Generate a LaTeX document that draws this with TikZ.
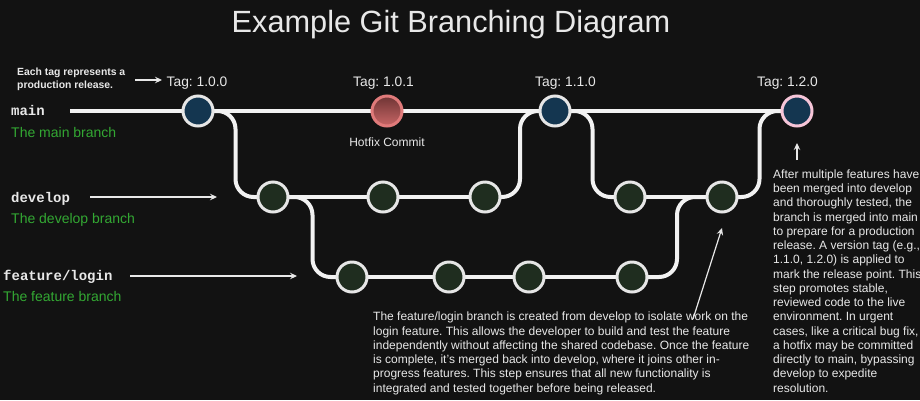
\documentclass[tikz,border=0pt]{standalone}
\usepackage{fontspec}
\setmainfont{Liberation Sans}
\setmonofont{Liberation Mono}
\usetikzlibrary{arrows.meta,calc}
\frenchspacing
\pgfdeclarelayer{back}
\pgfdeclarelayer{edges}
\pgfsetlayers{back,edges,main}
\definecolor{bg}{HTML}{121212}
\definecolor{linec}{HTML}{F2F2F2}
\definecolor{ringc}{HTML}{E6E6E6}
\definecolor{cblue}{HTML}{143650}
\definecolor{cgreen}{HTML}{1F2D1F}
\definecolor{hottop}{HTML}{6E3434}
\definecolor{hotbot}{HTML}{C86666}
\definecolor{hotring}{HTML}{E07A7A}
\definecolor{cpink}{HTML}{F6C5D8}
\definecolor{txt}{HTML}{E8E8E8}
\definecolor{gtxt}{HTML}{33A833}
\tikzset{
  commit/.style={circle, draw=ringc, line width=3pt, minimum size=30pt, inner sep=0pt},
  bluec/.style={commit, fill=cblue},
  greenc/.style={commit, fill=cgreen},
  hotc/.style={commit, draw=hotring, top color=hottop, bottom color=hotbot},
  branch/.style={draw=linec, line width=4pt, rounded corners=18pt},
  note/.style={text=txt, inner sep=0pt},
  tagtxt/.style={note, font=\fontsize{13.8}{16}\selectfont, anchor=base},
  bname/.style={note, font=\fontsize{14}{16}\selectfont\ttfamily\bfseries, anchor=base west},
  bdesc/.style={inner sep=0pt, text=gtxt, font=\fontsize{14}{16}\selectfont, anchor=base west},
  para/.style={note, font=\fontsize{12}{14.25}\selectfont\frenchspacing, align=left, anchor=base west},
  pointer/.style={draw=txt, line width=1.2pt, -{Stealth[length=7pt,width=6.5pt,inset=2.5pt]}}
}
\begin{document}
\begin{tikzpicture}[x=1pt,y=-1pt]
\begin{pgfonlayer}{back}
\fill[bg] (0,0) rectangle (920,400);
\end{pgfonlayer}
\useasboundingbox (0,0) rectangle (920,400);

\node[note, font=\fontsize{30.7}{36}\selectfont, anchor=base] (title) at (451,32) {Example Git Branching Diagram};

% commits
\node[bluec] (m1) at (198,111) {};
\node[hotc] (m2) at (387,111) {};
\node[bluec] (m3) at (555,111) {};
\node[bluec, draw=cpink] (m4) at (797,111) {};
\node[greenc] (d1) at (273,197) {};
\node[greenc] (d2) at (383,197) {};
\node[greenc] (d3) at (485,197) {};
\node[greenc] (d4) at (630,197) {};
\node[greenc] (d5) at (722,197) {};
\node[greenc] (f1) at (352,277) {};
\node[greenc] (f2) at (449,277) {};
\node[greenc] (f3) at (529,277) {};
\node[greenc] (f4) at (632,277) {};
\coordinate (mstart) at (70,111);

\begin{pgfonlayer}{edges}
\draw[branch] (mstart) -- (m1.center) -- (m2.center) -- (m3.center) -- (m4.center);
\draw[branch] (d1.center) -- (d2.center) -- (d3.center);
\draw[branch] (d4.center) -- (d5.center);
\draw[branch] (f1.center) -- (f2.center) -- (f3.center) -- (f4.center);
\draw[branch] (m1.center) -| ($(m1)!.5!(d1)$) |- (d1.center);
\draw[branch] (d1.center) -| ($(d1)!.5!(f1)$) |- (f1.center);
\draw[branch] (f4.center) -| ($(f4)!.5!(d5)$) |- (d5.center);
\draw[branch] (d3.center) -| ($(d3)!.5!(m3)$) |- (m3.center);
\draw[branch] (m3.center) -| ($(m3)!.5!(d4)$) |- (d4.center);
\draw[branch] (d5.center) -| ($(d5)!.5!(m4)$) |- (m4.center);
\end{pgfonlayer}

% tags
\node[tagtxt] (t1) at (197,86.5) {Tag: 1.0.0};
\node[tagtxt] (t2) at (383.5,86.5) {Tag: 1.0.1};
\node[tagtxt] (t3) at (565.5,86.5) {Tag: 1.1.0};
\node[tagtxt] (t4) at (787.5,86) {Tag: 1.2.0};
\node[note, font=\fontsize{12}{14}\selectfont, anchor=base] (hf) at (387,146) {Hotfix Commit};

\node[note, font=\fontsize{10.4}{13}\selectfont\bfseries, align=left, anchor=base west] (tagnote) at (17,88) {Each tag represents a\\production release.};
\coordinate (tagA) at (135,80);
\coordinate (tagB) at (162,80);
\draw[pointer] (tagA) -- (tagB);

% branch labels
\node[bname] (lmain) at (11,115) {main};
\node[bdesc] (dmain) at (11,137) {The main branch};
\node[bname] (ldev) at (11,202) {develop};
\node[bdesc] (ddev) at (11,223) {The develop branch};
\node[bname] (lfeat) at (3,280) {feature/login};
\node[bdesc] (dfeat) at (3,301) {The feature branch};
\coordinate (devA) at (90,197);
\coordinate (devB) at (217,197);
\coordinate (featA) at (130,276);
\coordinate (featB) at (297,276);
\draw[pointer] (devA) -- (devB);
\draw[pointer] (featA) -- (featB);

% paragraphs
\node[para] (p1) at (373,392) {The feature/login branch is created from develop to isolate work on the\\
login feature. This allows the developer to build and test the feature\\
independently without affecting the shared codebase. Once the feature\\
is complete, it's merged back into develop, where it joins other in-\\
progress features. This step ensures that all new functionality is\\
integrated and tested together before being released.};
\coordinate (p1A) at (693,319);
\coordinate (p1B) at (722,228);
\draw[pointer] (p1A) -- (p1B);

\node[para] (p2) at (773,392) {After multiple features have\\
been merged into develop\\
and thoroughly tested, the\\
branch is merged into main\\
to prepare for a production\\
release. A version tag (e.g.,\\
1.1.0, 1.2.0) is applied to\\
mark the release point. This\\
step promotes stable,\\
reviewed code to the live\\
environment. In urgent\\
cases, like a critical bug fix,\\
a hotfix may be committed\\
directly to main, bypassing\\
develop to expedite\\
resolution.};
\coordinate (p2A) at (797,160);
\coordinate (p2B) at (797,143);
\draw[pointer] (p2A) -- (p2B);
\end{tikzpicture}
\end{document}
